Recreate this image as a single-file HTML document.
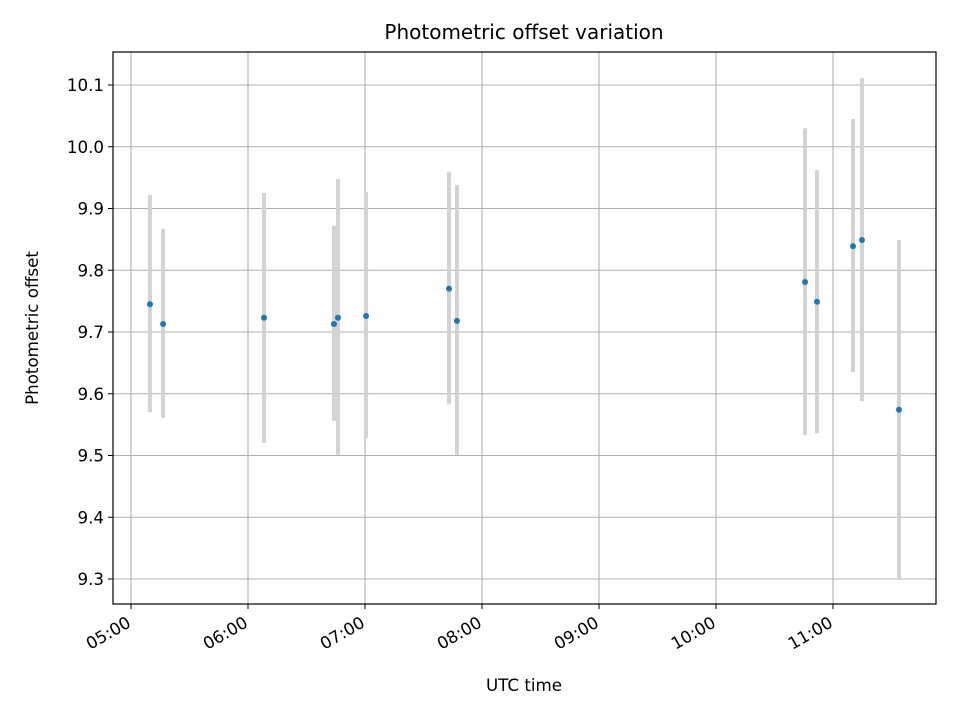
<!DOCTYPE html>
<html><head><meta charset="utf-8"><style>
body{margin:0;background:#fff;}
svg{font-family:"DejaVu Sans","Liberation Sans",sans-serif;}
</style></head><body>
<svg id="chart" width="960" height="720" viewBox="0 0 960 720" xmlns="http://www.w3.org/2000/svg">
<rect width="960" height="720" fill="#fff"/>
<g id="grid"></g>
<g id="bars"></g>
<g id="pts"></g>
<rect x="113" y="52" width="823" height="552" fill="none" stroke="#000" stroke-width="1.2"/>
<g id="axes"></g>
<text x="524" y="39" text-anchor="middle" font-size="20">Photometric offset variation</text>
<text x="524" y="691" text-anchor="middle" font-size="16.7">UTC time</text>
<text transform="translate(38,328) rotate(-90)" text-anchor="middle" font-size="16.7">Photometric offset</text>
</svg>
<script>
const times=[5.162,5.274,6.137,6.735,6.769,7.009,7.718,7.786,10.761,10.863,11.171,11.248,11.564];
const values=[9.745,9.713,9.723,9.713,9.723,9.726,9.770,9.718,9.781,9.749,9.839,9.849,9.574];
const upper=[9.922,9.867,9.925,9.872,9.948,9.927,9.959,9.938,10.030,9.962,10.045,10.111,9.849];
const lower=[9.570,9.561,9.520,9.556,9.501,9.528,9.583,9.501,9.533,9.536,9.635,9.588,9.300];
const yTicks=[9.3,9.4,9.5,9.6,9.7,9.8,9.9,10.0,10.1];
const xTicks=[5,6,7,8,9,10,11];
const xTickLabels=["05:00","06:00","07:00","08:00","09:00","10:00","11:00"];
const NS="http://www.w3.org/2000/svg";
const L=113,R=936,T=52,B=604;
function xs(h){return 131+(h-5)*117;}
function ys(v){return 579-(v-9.3)*617.5;}
function mk(tag,attrs,parent){const e=document.createElementNS(NS,tag);for(const k in attrs)e.setAttribute(k,attrs[k]);parent.appendChild(e);return e;}
const grid=document.getElementById('grid'),axes=document.getElementById('axes'),bars=document.getElementById('bars'),pts=document.getElementById('pts');
yTicks.forEach((v,i)=>{const y=ys(v);
 const g=mk('line',{x1:L,x2:R,y1:y,y2:y,stroke:'#b0b0b0','stroke-width':1.1},grid);
 
 
 mk('line',{x1:L-5,x2:L,y1:y,y2:y,stroke:'#000','stroke-width':1},axes);
 const t=mk('text',{x:L-9,y:y+6,'text-anchor':'end','font-size':16.7},axes);
 t.textContent=v.toFixed(1);
 
 
});
xTicks.forEach((h,i)=>{const x=xs(h);
 const g=mk('line',{x1:x,x2:x,y1:T,y2:B,stroke:'#b0b0b0','stroke-width':1.1},grid);
 
 
 mk('line',{x1:x,x2:x,y1:B,y2:B+5,stroke:'#000','stroke-width':1},axes);
 const t=mk('text',{x:0,y:0,'text-anchor':'end','font-size':16.7,transform:`translate(${x+1},${B+22}) rotate(-30)`},axes);
 t.textContent=xTickLabels[i];
 
 
});
times.forEach((h,i)=>{const x=xs(h);
 const b=mk('line',{x1:x,x2:x,y1:ys(upper[i]),y2:ys(lower[i]),stroke:'#d3d3d3','stroke-width':4},bars);
 
 
 const c=mk('circle',{cx:x,cy:ys(values[i]),r:3,fill:'#1f77b4'},pts);
 
 
});
</script>
</body></html>
